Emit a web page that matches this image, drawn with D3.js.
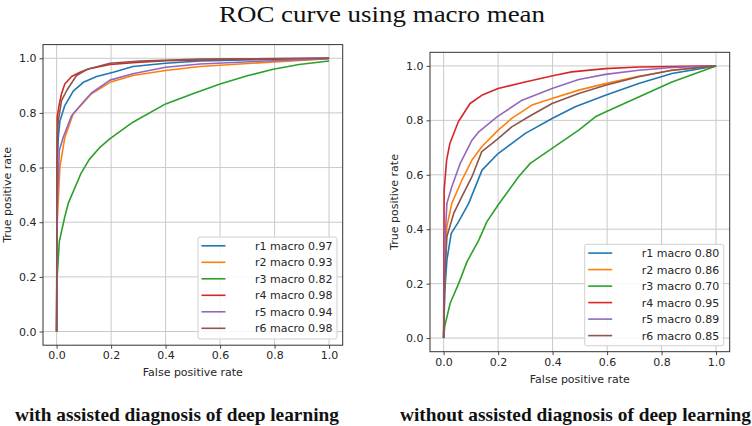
<!DOCTYPE html>
<html>
<head>
<meta charset="utf-8">
<script src="https://cdn.jsdelivr.net/npm/d3@7/dist/d3.min.js"></script>
<style>
  html, body { margin: 0; padding: 0; background: #fff; }
  svg { display: block; }
</style>
</head>
<body>
<svg id="chart" width="752" height="426"></svg>
<script>
// ---------------- DATA ----------------
const seriesNames = ["r1", "r2", "r3", "r4", "r5", "r6"];
const colors = ["#1f77b4", "#ff7f0e", "#2ca02c", "#d62728", "#9467bd", "#8c564b"];
const tickValues = [0.0, 0.2, 0.4, 0.6, 0.8, 1.0];

// Left panel: with assisted diagnosis
const aucWith = [0.97, 0.93, 0.82, 0.98, 0.94, 0.98];
const withR1 = [[0,0],[0.002,0.58],[0.006,0.71],[0.012,0.77],[0.03,0.827],[0.061,0.88],[0.098,0.912],[0.147,0.933],[0.208,0.949],[0.28,0.97],[0.40,0.982],[0.526,0.99],[0.77,0.996],[1,1]];
const withR2 = [[0,0],[0.002,0.395],[0.012,0.602],[0.03,0.71],[0.061,0.797],[0.128,0.87],[0.196,0.912],[0.28,0.937],[0.40,0.955],[0.526,0.97],[0.77,0.985],[1,0.998]];
const withR3 = [[0,0],[0.002,0.2],[0.01,0.33],[0.03,0.42],[0.043,0.47],[0.09,0.58],[0.12,0.63],[0.16,0.675],[0.195,0.705],[0.28,0.766],[0.40,0.833],[0.50,0.87],[0.60,0.906],[0.70,0.936],[0.795,0.96],[0.89,0.977],[1,0.99]];
const withR4 = [[0,0],[0.002,0.785],[0.01,0.833],[0.018,0.87],[0.03,0.906],[0.055,0.933],[0.086,0.949],[0.116,0.961],[0.196,0.977],[0.293,0.985],[0.40,0.991],[0.65,0.997],[1,1]];
const withR5 = [[0,0],[0.002,0.456],[0.01,0.663],[0.024,0.71],[0.055,0.79],[0.098,0.84],[0.128,0.873],[0.196,0.92],[0.28,0.943],[0.40,0.967],[0.526,0.979],[0.77,0.99],[1,0.998]];
const withR6 = [[0,0],[0.002,0.7],[0.006,0.77],[0.018,0.845],[0.037,0.882],[0.073,0.937],[0.116,0.961],[0.196,0.982],[0.306,0.99],[0.53,0.997],[1,1]];

// Right panel: without assisted diagnosis
const aucWithout = [0.80, 0.86, 0.70, 0.95, 0.89, 0.85];
const withoutR1 = [[0,0],[0.004,0.165],[0.012,0.287],[0.028,0.385],[0.055,0.428],[0.092,0.495],[0.141,0.617],[0.2,0.678],[0.3,0.752],[0.398,0.807],[0.483,0.85],[0.594,0.892],[0.716,0.935],[0.838,0.972],[1,1]];
const withoutR2 = [[0,0],[0.004,0.24],[0.012,0.41],[0.03,0.495],[0.067,0.58],[0.104,0.654],[0.14,0.703],[0.2,0.764],[0.25,0.807],[0.324,0.856],[0.398,0.88],[0.496,0.911],[0.594,0.935],[0.716,0.962],[0.838,0.984],[1,1]];
const withoutR3 = [[0,0],[0.004,0.043],[0.024,0.128],[0.055,0.2],[0.086,0.281],[0.129,0.36],[0.159,0.428],[0.2,0.489],[0.275,0.593],[0.318,0.642],[0.398,0.697],[0.496,0.764],[0.557,0.813],[0.594,0.831],[0.716,0.886],[0.838,0.941],[1,1]];
const withoutR4 = [[0,0],[0.001,0.3],[0.002,0.544],[0.011,0.654],[0.023,0.715],[0.054,0.795],[0.097,0.862],[0.14,0.892],[0.2,0.917],[0.299,0.941],[0.409,0.966],[0.47,0.978],[0.594,0.99],[0.716,0.996],[1,1]];
const withoutR5 = [[0,0],[0.004,0.336],[0.012,0.495],[0.03,0.556],[0.061,0.642],[0.104,0.727],[0.129,0.758],[0.196,0.813],[0.288,0.874],[0.398,0.917],[0.496,0.95],[0.594,0.969],[0.716,0.984],[0.838,0.994],[1,1]];
const withoutR6 = [[0,0],[0.004,0.214],[0.012,0.373],[0.037,0.458],[0.067,0.52],[0.104,0.593],[0.14,0.685],[0.2,0.733],[0.25,0.776],[0.312,0.813],[0.398,0.862],[0.496,0.899],[0.594,0.929],[0.716,0.96],[0.838,0.984],[1,1]];

const titleText = "ROC curve using macro mean";
const captionWith = "with assisted diagnosis of deep learning";
const captionWithout = "without assisted diagnosis of deep learning";
const xLabel = "False positive rate";
const yLabel = "True positive rate";

// ---------------- LAYOUT ----------------
const svg = d3.select("#chart");
const sans = "'DejaVu Sans', sans-serif";
const serif = "'Liberation Serif', 'Times New Roman', serif";
const textColor = "#262626";

svg.append("text")
  .attr("x", 219).attr("y", 22)
  .attr("textLength", 326).attr("lengthAdjust", "spacingAndGlyphs")
  .attr("font-family", serif).attr("font-size", 24).attr("fill", "#111")
  .text(titleText);

const panels = [
  { box: {x0: 43, x1: 342.7, y0: 44.6, y1: 345.2},
    series: [withR1, withR2, withR3, withR4, withR5, withR6], auc: aucWith,
    legend: {x: 198, y: 237, w: 139, h: 102},
    caption: captionWith, capX: 15, capW: 324,
    ylabX: 7 },
  { box: {x0: 430, x1: 729.7, y0: 52.3, y1: 351.7},
    series: [withoutR1, withoutR2, withoutR3, withoutR4, withoutR5, withoutR6], auc: aucWithout,
    legend: {x: 584.7, y: 244.3, w: 139, h: 101.4},
    caption: captionWithout, capX: 400, capW: 351,
    ylabX: 393.7 }
];

panels.forEach(p => {
  const b = p.box;
  const x = d3.scaleLinear().domain([-0.05, 1.05]).range([b.x0, b.x1]);
  const y = d3.scaleLinear().domain([-0.05, 1.05]).range([b.y1, b.y0]);
  const g = svg.append("g");

  // grid
  g.append("g").selectAll("line.gx").data(tickValues).join("line")
    .attr("x1", d => x(d)).attr("x2", d => x(d))
    .attr("y1", b.y0).attr("y2", b.y1)
    .attr("stroke", "#c9c9c9").attr("stroke-width", 1);
  g.append("g").selectAll("line.gy").data(tickValues).join("line")
    .attr("y1", d => y(d)).attr("y2", d => y(d))
    .attr("x1", b.x0).attr("x2", b.x1)
    .attr("stroke", "#c9c9c9").attr("stroke-width", 1);

  // curves
  const line = d3.line().x(d => x(d[0])).y(d => y(d[1]));
  p.series.forEach((s, i) => {
    g.append("path").datum(s)
      .attr("d", line).attr("fill", "none")
      .attr("stroke", colors[i]).attr("stroke-width", 1.6)
      .attr("stroke-linejoin", "round");
  });

  // axes
  const xAxis = d3.axisBottom(x).tickValues(tickValues).tickFormat(d3.format(".1f")).tickSize(3.5).tickPadding(3);
  const yAxis = d3.axisLeft(y).tickValues(tickValues).tickFormat(d3.format(".1f")).tickSize(3.5).tickPadding(3);
  const gx = g.append("g").attr("transform", `translate(0,${b.y1})`).call(xAxis);
  const gy = g.append("g").attr("transform", `translate(${b.x0},0)`).call(yAxis);
  [gx, gy].forEach(a => {
    a.select(".domain").remove();
    a.selectAll("text").attr("font-family", sans).attr("font-size", 11).attr("fill", textColor);
    a.selectAll("line").attr("stroke", "#333").attr("stroke-width", 0.9);
  });

  // spines
  g.append("rect").attr("x", b.x0).attr("y", b.y0)
    .attr("width", b.x1 - b.x0).attr("height", b.y1 - b.y0)
    .attr("fill", "none").attr("stroke", "#333").attr("stroke-width", 1);

  // axis labels
  g.append("text").attr("x", (b.x0 + b.x1) / 2).attr("y", b.y1 + 31)
    .attr("text-anchor", "middle").attr("font-family", sans).attr("font-size", 11)
    .attr("fill", textColor).text(xLabel);
  g.append("text")
    .attr("transform", `translate(${p.ylabX + 4},${(b.y0 + b.y1) / 2}) rotate(-90)`)
    .attr("text-anchor", "middle").attr("font-family", sans).attr("font-size", 11)
    .attr("fill", textColor).text(yLabel);

  // legend
  const L = p.legend;
  g.append("rect").attr("x", L.x).attr("y", L.y).attr("width", L.w).attr("height", L.h)
    .attr("rx", 2).attr("fill", "#fff").attr("fill-opacity", 0.85)
    .attr("stroke", "#d0d0d0").attr("stroke-width", 1);
  const rowH = 16.5;
  seriesNames.forEach((n, i) => {
    const cy = L.y + 8.8 + i * rowH;
    g.append("line").attr("x1", L.x + 3.5).attr("x2", L.x + 27.5)
      .attr("y1", cy).attr("y2", cy)
      .attr("stroke", colors[i]).attr("stroke-width", 1.6);
    g.append("text").attr("x", L.x + L.w - 4.5).attr("y", cy + 4)
      .attr("text-anchor", "end").attr("font-family", sans).attr("font-size", 11)
      .attr("fill", textColor).text(`${n} macro ${p.auc[i].toFixed(2)}`);
  });

  // caption
  svg.append("text").attr("x", p.capX).attr("y", 421)
    .attr("textLength", p.capW).attr("lengthAdjust", "spacingAndGlyphs")
    .attr("font-family", serif).attr("font-weight", "bold").attr("font-size", 19)
    .attr("fill", "#111").text(p.caption);
});
</script>
</body>
</html>
